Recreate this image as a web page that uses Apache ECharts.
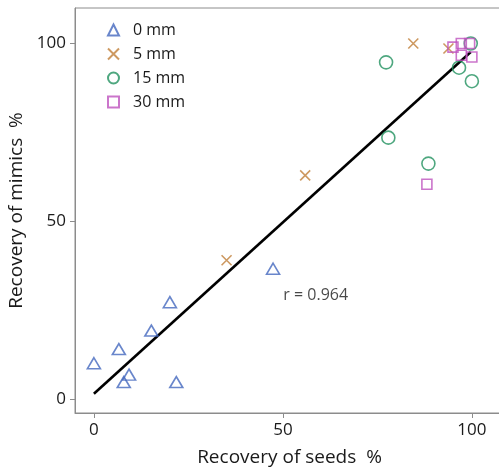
<!DOCTYPE html>
<html>
<head>
<meta charset="utf-8">
<script src="https://cdn.jsdelivr.net/npm/echarts@6/dist/echarts.min.js"></script>
<style>
html, body { margin: 0; padding: 0; background: #fff; }
#chart { width: 499px; height: 469px; }
</style>
</head>
<body>
<div id="chart"></div>
<script>
// recovery (%) of seeds vs mimics, by burial depth
let seriesNames = ['0 mm', '5 mm', '15 mm', '30 mm'];
let depth0 = [[0, 10], [6.6, 14], [7.9, 4.7], [9.3, 6.8], [15.2, 19.2], [20.1, 27.2], [21.8, 4.7], [47.4, 36.6]];
let depth5 = [[35.1, 39], [55.9, 62.9], [84.5, 100], [93.8, 98.6]];
let depth15 = [[77.3, 94.7], [77.9, 73.5], [88.5, 66.2], [96.6, 93.2], [100, 89.4], [99.7, 100]];
let depth30 = [[88.1, 60.4], [95, 99], [97.2, 100], [99.4, 100], [97.2, 96.7], [100, 96.2]];
let fitLine = [[0, 1.4], [99.7, 97.6]];
let rLabel = [[58.7, 29.1]];
let rText = 'r = 0.964';
let tickValues = [0, 50, 100];

let colorList = ['#4468be', '#c0803a', '#22915f', '#be52be'];
let fontFamily = '"Open Sans", "Noto Sans", sans-serif';

let hollow = function (i) {
    return {
        color: 'rgba(255,255,255,0)',
        borderColor: colorList[i],
        borderWidth: 1.6
    };
};

let option = {
    animation: false,
    backgroundColor: '#fff',
    textStyle: { fontFamily: fontFamily },
    grid: {
        left: 75,
        right: -5,
        top: 8,
        bottom: 56,
        containLabel: false,
        outerBoundsMode: 'none',
        show: true,
        borderColor: '#8c8c8c',
        borderWidth: 1
    },
    legend: {
        orient: 'vertical',
        left: 102,
        top: 17,
        itemWidth: 11,
        itemHeight: 11,
        itemGap: 8,
        data: seriesNames,
        textStyle: {
            fontSize: 16,
            color: '#1a1a1a',
            fontFamily: fontFamily,
            padding: [0, 0, 0, 9]
        }
    },
    xAxis: {
        type: 'value',
        min: -5,
        max: 108.5,
        name: 'Recovery of seeds  %',
        nameLocation: 'middle',
        nameGap: 35,
        nameTextStyle: { fontSize: 19, color: '#1a1a1a' },
        splitLine: { show: false },
        axisLine: { onZero: false, lineStyle: { color: '#8c8c8c' } },
        axisTick: { customValues: tickValues, length: 5, lineStyle: { color: '#8c8c8c' } },
        axisLabel: { customValues: tickValues, fontSize: 17, color: '#1a1a1a', margin: 9 }
    },
    yAxis: {
        type: 'value',
        min: -4,
        max: 110,
        name: 'Recovery of mimics  %',
        nameLocation: 'middle',
        nameGap: 43,
        nameTextStyle: { fontSize: 19, color: '#1a1a1a' },
        splitLine: { show: false },
        axisLine: { show: true, onZero: false, lineStyle: { color: '#8c8c8c' } },
        axisTick: { show: true, customValues: tickValues, length: 5, lineStyle: { color: '#8c8c8c' } },
        axisLabel: { customValues: tickValues, fontSize: 17, color: '#1a1a1a', margin: 9 }
    },
    series: [
        {
            name: 'fit',
            type: 'line',
            data: fitLine,
            symbol: 'none',
            lineStyle: { color: '#000', width: 2.6 },
            z: 1
        },
        {
            name: seriesNames[0],
            type: 'scatter',
            symbol: 'triangle',
            symbolSize: [13, 11],
            itemStyle: hollow(0),
            data: depth0,
            z: 3
        },
        {
            name: seriesNames[1],
            type: 'scatter',
            symbol: 'path://M0,0L10,10M10,0L0,10',
            symbolSize: 10,
            itemStyle: hollow(1),
            data: depth5,
            z: 3
        },
        {
            name: seriesNames[2],
            type: 'scatter',
            symbol: 'circle',
            symbolSize: 13,
            itemStyle: hollow(2),
            data: depth15,
            z: 3
        },
        {
            name: seriesNames[3],
            type: 'scatter',
            symbol: 'rect',
            symbolSize: 10,
            itemStyle: hollow(3),
            data: depth30,
            z: 3
        },
        {
            name: 'r',
            type: 'scatter',
            symbolSize: 0,
            data: rLabel,
            silent: true,
            label: {
                show: true,
                position: 'inside',
                formatter: rText,
                fontSize: 16,
                color: '#1a1a1a'
            }
        }
    ]
};

let chart = echarts.init(document.getElementById('chart'));
chart.setOption(option);
</script>
</body>
</html>
